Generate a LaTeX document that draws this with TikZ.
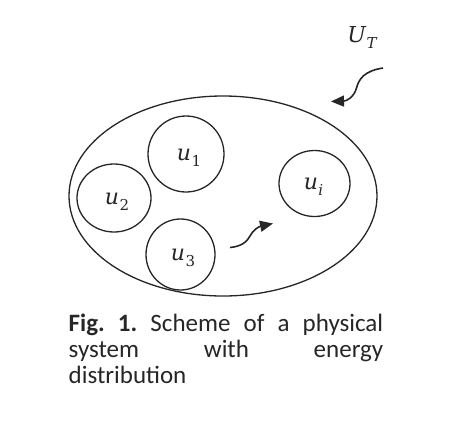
\documentclass[tikz,border=0pt]{standalone}
\usepackage{fontspec}
\newfontfamily\capfont{Carlito}
\newfontfamily\lblfont{DejaVu Serif}
\usetikzlibrary{shapes.geometric,arrows.meta}
\frenchspacing
\newcommand{\mylbl}[2]{{\lblfont\fontsize{22}{24}\selectfont\itshape #1}\kern0.5pt\raisebox{-6pt}{\lblfont\fontsize{15}{16}\selectfont #2}}
\begin{document}
\begin{tikzpicture}[x=1pt,y=-1pt,
  every node/.style={inner sep=0pt,text=black!85},
  part/.style={draw=black!85,line width=1.3pt,ellipse},
  wavy/.style={draw=black!85,line width=1.6pt,-{Triangle[length=13pt,width=11pt]}},
  captext/.style={anchor=base west,font=\capfont\fontsize{25}{26}\selectfont}]
\useasboundingbox (0,0) rectangle (474,424);
\node[draw=black!85,line width=1.3pt,ellipse,minimum width=308pt,minimum height=200pt] (sys) at (223,196) {};
\node[part,minimum width=76pt,minimum height=76pt] (u1) at (186,154) {};
\node[part,minimum width=74pt,minimum height=68pt] (u2) at (114,198) {};
\node[part,minimum width=69pt,minimum height=71pt] (u3) at (180.5,254.5) {};
\node[part,minimum width=71pt,minimum height=66pt] (ui) at (314.5,183.5) {};
\node (l1) at ([shift={(3,3.5)}]u1.center) {\mylbl{u}{1}};
\node (l2) at ([shift={(3,4)}]u2.center) {\mylbl{u}{2}};
\node (l3) at ([shift={(2.5,3.5)}]u3.center) {\mylbl{u}{3}};
\node (li) at ([shift={(-1,3.5)}]ui.center) {\mylbl{u}{\itshape i}};
\node (UT) at (362,37) {\mylbl{U}{\itshape T}};
\coordinate (a1s) at (383,68);
\coordinate (a1e) at (331,101.5);
\coordinate (a2s) at (230,247.5);
\coordinate (a2e) at (273,223.5);
\draw[wavy] (a1s) .. controls (364,71) and (359,79) .. (356.5,88)
   .. controls (354,97) and (347,101) .. (a1e);
\draw[wavy] (a2s) .. controls (241,246.5) and (247,242) .. (250,236)
   .. controls (253,230) and (259,226.5) .. (a2e);
\node[captext] (c1) at (68.5,331) {\makebox[314.5pt][s]{\textbf{Fig. 1.} Scheme of a physical}};
\node[captext] (c2) at (68.5,357.5) {\makebox[314.5pt][s]{system with energy}};
\node[captext] (c3) at (68.5,383) {distribution};
\end{tikzpicture}
\end{document}
